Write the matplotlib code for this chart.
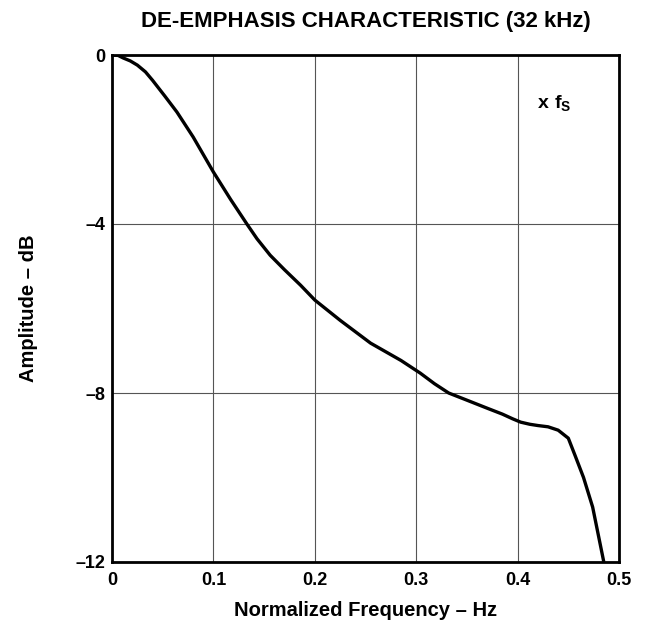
import matplotlib
matplotlib.use("Agg")
import matplotlib.pyplot as plt

plt.rcParams['font.family'] = ['Liberation Sans', 'DejaVu Sans']
plt.rcParams['mathtext.fontset'] = 'custom'
plt.rcParams['mathtext.bf'] = 'Liberation Sans:bold'
plt.rcParams['mathtext.rm'] = 'Liberation Sans:bold'

# curve (normalized freq, dB)
freq = [0.0, 0.006, 0.011, 0.018, 0.025, 0.033, 0.04, 0.052, 0.064, 0.08,
        0.1, 0.117, 0.133, 0.143, 0.156, 0.17, 0.186, 0.2, 0.225, 0.255,
        0.285, 0.304, 0.318, 0.332, 0.35, 0.37, 0.385, 0.395, 0.403, 0.412,
        0.42, 0.43, 0.44, 0.45, 0.457, 0.465, 0.474, 0.485]
amp = [0.0, -0.01, -0.07, -0.14, -0.24, -0.4, -0.6, -0.97, -1.35, -1.94,
       -2.77, -3.42, -4.0, -4.35, -4.74, -5.08, -5.45, -5.8, -6.28, -6.82,
       -7.23, -7.53, -7.78, -8.0, -8.17, -8.36, -8.5, -8.61, -8.69, -8.74,
       -8.77, -8.8, -8.88, -9.07, -9.5, -10.0, -10.7, -12.0]

xticks = [0, 0.1, 0.2, 0.3, 0.4, 0.5]
xticklabels = ['0', '0.1', '0.2', '0.3', '0.4', '0.5']
yticks = [0, -4, -8, -12]
yticklabels = ['0', '\u20134', '\u20138', '\u201312']

fig = plt.figure(figsize=(6.49, 6.25), dpi=100)
ax = fig.add_axes([0.1726, 0.1008, 0.7812, 0.8112])

ax.plot(freq, amp, color='black', linewidth=2.4, solid_capstyle='butt',
        solid_joinstyle='round', zorder=3)

ax.set_xlim(0, 0.5)
ax.set_ylim(-12, 0)
ax.set_xticks(xticks)
ax.set_xticklabels(xticklabels, fontsize=13, fontweight='bold')
ax.set_yticks(yticks)
ax.set_yticklabels(yticklabels, fontsize=13, fontweight='bold')
ax.tick_params(axis='x', length=0, pad=7)
ax.tick_params(axis='y', length=0, pad=5)
ax.grid(True, color='#555555', linewidth=0.8)
for s in ax.spines.values():
    s.set_linewidth(2)
    s.set_color('black')

ax.set_title('DE-EMPHASIS CHARACTERISTIC (32 kHz)', fontsize=16,
             fontweight='bold', pad=20)
ax.set_xlabel('Normalized Frequency \u2013 Hz', fontsize=14.5, fontweight='bold', labelpad=9)
ax.set_ylabel('Amplitude \u2013 dB', fontsize=14.5, fontweight='bold', labelpad=27)

ax.text(0.838, 0.905, r'$\mathbf{x\ f_S}$', transform=ax.transAxes,
        fontsize=14, ha='left', va='center')

fig.savefig('out.png', dpi=100)
